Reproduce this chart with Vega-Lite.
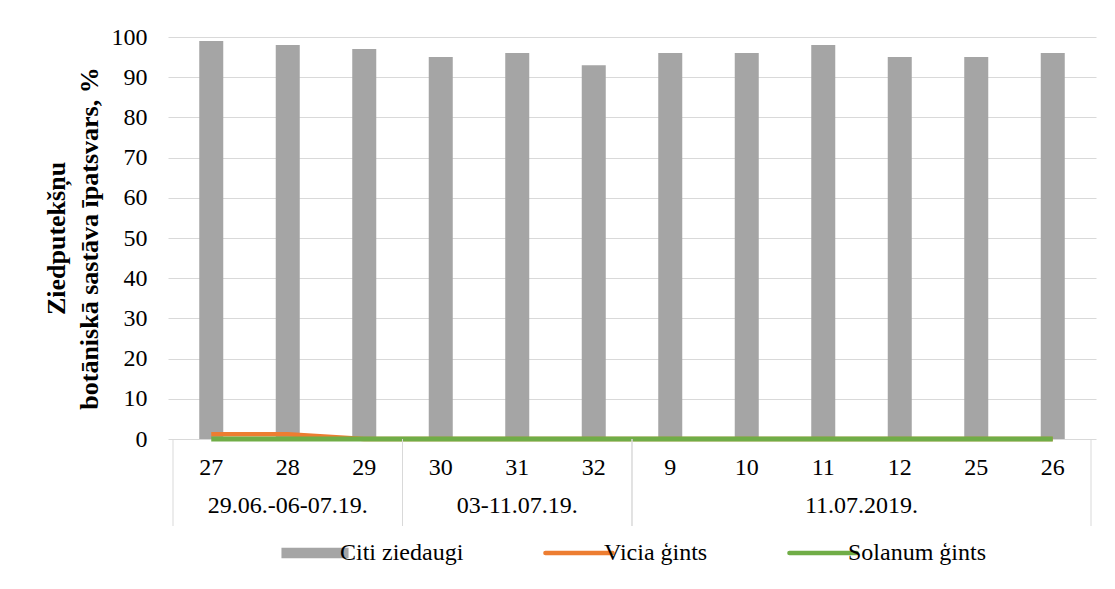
{
  "$schema": "https://vega.github.io/schema/vega-lite/v6.json",
  "width": 928,
  "height": 489,
  "autosize": {"type": "none"},
  "padding": {"left": 168, "top": 37, "right": 19, "bottom": 63},
  "background": "white",
  "config": {"view": {"stroke": null}, "font": "Liberation Serif"},
  "datasets": {
    "samples": [
      {"idx": 1, "num": "27", "series": "Citi ziedaugi", "value": 99},
      {"idx": 2, "num": "28", "series": "Citi ziedaugi", "value": 98},
      {"idx": 3, "num": "29", "series": "Citi ziedaugi", "value": 97},
      {"idx": 4, "num": "30", "series": "Citi ziedaugi", "value": 95},
      {"idx": 5, "num": "31", "series": "Citi ziedaugi", "value": 96},
      {"idx": 6, "num": "32", "series": "Citi ziedaugi", "value": 93},
      {"idx": 7, "num": "9", "series": "Citi ziedaugi", "value": 96},
      {"idx": 8, "num": "10", "series": "Citi ziedaugi", "value": 96},
      {"idx": 9, "num": "11", "series": "Citi ziedaugi", "value": 98},
      {"idx": 10, "num": "12", "series": "Citi ziedaugi", "value": 95},
      {"idx": 11, "num": "25", "series": "Citi ziedaugi", "value": 95},
      {"idx": 12, "num": "26", "series": "Citi ziedaugi", "value": 96},
      {"idx": 1, "num": "27", "series": "Vicia ģints", "value": 1.2},
      {"idx": 2, "num": "28", "series": "Vicia ģints", "value": 1.2},
      {"idx": 3, "num": "29", "series": "Vicia ģints", "value": 0},
      {"idx": 4, "num": "30", "series": "Vicia ģints", "value": 0},
      {"idx": 5, "num": "31", "series": "Vicia ģints", "value": 0},
      {"idx": 6, "num": "32", "series": "Vicia ģints", "value": 0},
      {"idx": 7, "num": "9", "series": "Vicia ģints", "value": 0},
      {"idx": 8, "num": "10", "series": "Vicia ģints", "value": 0},
      {"idx": 9, "num": "11", "series": "Vicia ģints", "value": 0},
      {"idx": 10, "num": "12", "series": "Vicia ģints", "value": 0},
      {"idx": 11, "num": "25", "series": "Vicia ģints", "value": 0},
      {"idx": 12, "num": "26", "series": "Vicia ģints", "value": 0},
      {"idx": 1, "num": "27", "series": "Solanum ģints", "value": 0},
      {"idx": 2, "num": "28", "series": "Solanum ģints", "value": 0},
      {"idx": 3, "num": "29", "series": "Solanum ģints", "value": 0},
      {"idx": 4, "num": "30", "series": "Solanum ģints", "value": 0},
      {"idx": 5, "num": "31", "series": "Solanum ģints", "value": 0},
      {"idx": 6, "num": "32", "series": "Solanum ģints", "value": 0},
      {"idx": 7, "num": "9", "series": "Solanum ģints", "value": 0},
      {"idx": 8, "num": "10", "series": "Solanum ģints", "value": 0},
      {"idx": 9, "num": "11", "series": "Solanum ģints", "value": 0},
      {"idx": 10, "num": "12", "series": "Solanum ģints", "value": 0},
      {"idx": 11, "num": "25", "series": "Solanum ģints", "value": 0},
      {"idx": 12, "num": "26", "series": "Solanum ģints", "value": 0}
    ],
    "groups": [
      {"group": "29.06.-06-07.19.", "first": 1, "last": 3},
      {"group": "03-11.07.19.", "first": 4, "last": 6},
      {"group": "11.07.2019.", "first": 7, "last": 12}
    ]
  },
  "layer": [
    {
      "data": {"name": "samples"},
      "transform": [{"filter": "datum.series === 'Citi ziedaugi'"}],
      "mark": {"type": "bar", "width": 24},
      "encoding": {
        "x": {"field": "idx", "type": "quantitative", "scale": {"domain": [0.5, 12.5], "nice": false, "zero": false}, "axis": null},
        "y": {
          "field": "value", "type": "quantitative",
          "scale": {"domain": [-21.64, 100], "nice": false, "zero": false},
          "axis": {
            "values": [0, 10, 20, 30, 40, 50, 60, 70, 80, 90, 100],
            "grid": true, "gridColor": "#D9D9D9", "gridWidth": 1,
            "domain": false, "ticks": false, "tickSize": 0,
            "labelPadding": 21, "labelFont": "Liberation Serif", "labelFontSize": 24, "labelColor": "black",
            "title": ["Ziedputekšņu", "botāniskā sastāva īpatsvars, %"],
            "titleFont": "Liberation Serif", "titleFontSize": 26, "titleFontWeight": "bold", "titleColor": "black",
            "titleAngle": -90, "titleX": -104, "titleY": 201, "titleAlign": "center", "titleBaseline": "alphabetic", "titleLineHeight": 33
          }
        },
        "color": {
          "field": "series", "type": "nominal",
          "scale": {"domain": ["Citi ziedaugi", "Vicia ģints", "Solanum ģints"], "range": ["#A5A5A5", "#ED7D31", "#70AD47"]},
          "legend": {
            "title": null, "orient": "none", "direction": "horizontal",
            "legendX": 135, "legendY": 504, "padding": 0,
            "columnPadding": 72, "symbolSize": 4500, "labelOffset": 13,
            "labelFont": "Liberation Serif", "labelFontSize": 24, "labelColor": "black",
            "encode": {
              "symbols": {
                "update": {
                  "size": {"value": 4500},
                  "shape": {"signal": "datum.value === 'Citi ziedaugi' ? 'M-1,-0.16H1V0.16H-1Z' : 'M-1,0H1'"},
                  "fill": {"signal": "datum.value === 'Citi ziedaugi' ? '#A5A5A5' : 'transparent'"},
                  "stroke": {"signal": "datum.value === 'Citi ziedaugi' ? 'transparent' : (datum.value === 'Vicia ģints' ? '#ED7D31' : '#70AD47')"},
                  "strokeWidth": {"signal": "datum.value === 'Citi ziedaugi' ? 0 : 4.5"},
                  "strokeCap": {"value": "round"},
                  "opacity": {"value": 1},
                  "fillOpacity": {"value": 1},
                  "strokeOpacity": {"value": 1}
                }
              }
            }
          }
        }
      }
    },
    {
      "data": {"name": "samples"},
      "transform": [{"filter": "datum.series === 'Vicia ģints'"}],
      "mark": {"type": "line", "strokeWidth": 4.5, "strokeJoin": "round"},
      "encoding": {
        "x": {"field": "idx", "type": "quantitative"},
        "y": {"field": "value", "type": "quantitative"},
        "color": {"field": "series", "type": "nominal"}
      }
    },
    {
      "data": {"name": "samples"},
      "transform": [{"filter": "datum.series === 'Solanum ģints'"}],
      "mark": {"type": "line", "strokeWidth": 5, "strokeJoin": "round"},
      "encoding": {
        "x": {"field": "idx", "type": "quantitative"},
        "y": {"field": "value", "type": "quantitative"},
        "color": {"field": "series", "type": "nominal"}
      }
    },
    {
      "data": {"name": "samples"},
      "transform": [{"filter": "datum.series === 'Citi ziedaugi'"}],
      "mark": {"type": "text", "font": "Liberation Serif", "fontSize": 24, "color": "black", "baseline": "middle", "align": "center"},
      "encoding": {
        "x": {"field": "idx", "type": "quantitative"},
        "y": {"datum": -7.2, "type": "quantitative"},
        "text": {"field": "num"}
      }
    },
    {
      "data": {"name": "groups"},
      "transform": [{"calculate": "datum.first - 0.5", "as": "lo"}],
      "mark": {"type": "rule", "color": "#D9D9D9", "strokeWidth": 1},
      "encoding": {
        "x": {"field": "lo", "type": "quantitative"},
        "y": {"datum": 0, "type": "quantitative"},
        "y2": {"datum": -21.64}
      }
    },
    {
      "data": {"name": "groups"},
      "transform": [{"calculate": "datum.last + 0.5", "as": "hi"}],
      "mark": {"type": "rule", "color": "#D9D9D9", "strokeWidth": 1},
      "encoding": {
        "x": {"field": "hi", "type": "quantitative"},
        "y": {"datum": 0, "type": "quantitative"},
        "y2": {"datum": -21.64}
      }
    },
    {
      "data": {"name": "groups"},
      "transform": [{"calculate": "(datum.first + datum.last) / 2", "as": "mid"}],
      "mark": {"type": "text", "font": "Liberation Serif", "fontSize": 24, "color": "black", "baseline": "middle", "align": "center"},
      "encoding": {
        "x": {"field": "mid", "type": "quantitative"},
        "y": {"datum": -16.7, "type": "quantitative"},
        "text": {"field": "group"}
      }
    }
  ]
}
